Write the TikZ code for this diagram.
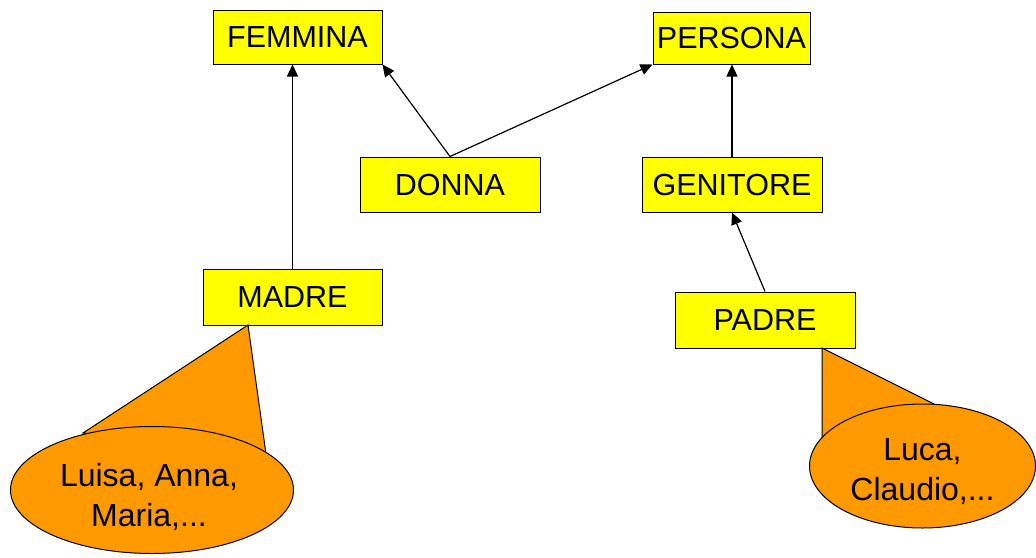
\documentclass[tikz,border=0pt]{standalone}
\usepackage{fontspec}
\setmainfont{Liberation Sans}
\usetikzlibrary{arrows.meta,shapes.geometric,calc}
\definecolor{boxyellow}{RGB}{255,255,0}
\definecolor{setorange}{RGB}{255,153,0}
% centred block of lines, taking no room, lowered by #1
\newcommand{\lowered}[2]{\raisebox{-#1}[0pt][0pt]{\begin{tabular}{@{}c@{}}#2\end{tabular}}}
\begin{document}
\begin{tikzpicture}[x=1pt,y=-1pt,
  concept/.style={draw=black,line width=1pt,fill=boxyellow,inner sep=0pt,
    font=\fontsize{30.5}{34}\selectfont},
  isa/.style={line width=1.2pt,-{Triangle[length=12pt,width=11pt]}},
  extent/.style={draw=black,line width=1pt,fill=setorange},
  members/.style={extent,ellipse,inner sep=0pt,
    font=\fontsize{32}{40}\selectfont}]
\useasboundingbox (0,0) rectangle (1036,557);

% concepts
\node[concept,minimum width=169pt,minimum height=54pt] (femmina) at (297.5,37) {\raisebox{-1.5pt}{FEMMINA}};
\node[concept,minimum width=157pt,minimum height=52pt] (persona) at (731.5,38) {\raisebox{-1.5pt}{PERSONA}};
\node[concept,minimum width=180pt,minimum height=55pt] (donna) at (450,184.5) {\raisebox{-1.5pt}{DONNA}};
\node[concept,minimum width=180pt,minimum height=55pt] (genitore) at (732,184.5) {\raisebox{-1.5pt}{GENITORE}};
\node[concept,minimum width=179pt,minimum height=56pt] (madre) at (292.5,297) {\raisebox{-1.5pt}{MADRE}};
\node[concept,minimum width=180pt,minimum height=56pt] (padre) at (765,320) {\raisebox{-1.5pt}{PADRE}};

% is-a links
\draw[isa] (madre.north) -- (madre.north |- femmina.south);
\draw[isa] (donna.north) -- (femmina.south east);
\draw[isa] (donna.north) -- (persona.south west);
\draw[isa] (genitore.north) -- (genitore.north |- persona.south);
\draw[isa] (padre.north) -- (genitore.south);

% extension of MADRE
\coordinate (mtip) at (248,325);
\coordinate (ml) at (83,433);
\coordinate (mr) at (266,454);
\draw[extent,line join=miter] (mtip) -- (ml) -- (mr) -- cycle;
\node[members,minimum width=283pt,minimum height=127pt] (madri) at (152,490)
  {\hspace*{-6pt}\lowered{15pt}{Luisa, Anna,\\ Maria,...}};

% extension of PADRE
\coordinate (ptip) at (822,348);
\coordinate (pl) at (822,442);
\coordinate (pr) at (934,404);
\draw[extent,line join=miter] (ptip) -- (pl) -- (pr) -- cycle;
\node[members,minimum width=226pt,minimum height=124pt] (padri) at (922.5,466)
  {\lowered{13pt}{Luca,\\ Claudio,...}};
\end{tikzpicture}
\end{document}
